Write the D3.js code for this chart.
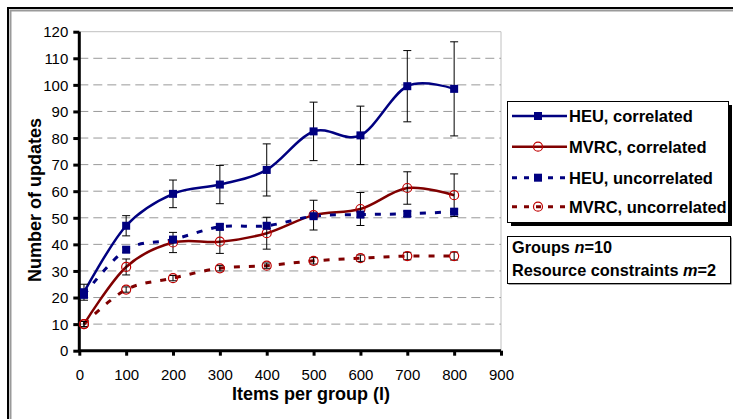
<!DOCTYPE html>
<html>
<head>
<meta charset="utf-8">
<script src="https://cdn.jsdelivr.net/npm/d3@7"></script>
<style>
  body { margin: 0; background: #fff; }
  svg { display: block; font-family: 'Liberation Sans', Arial, sans-serif; }
  .tick-label { font-size: 15px; fill: #000; }
  .axis-title { font-size: 18px; font-weight: bold; }
  .legend-text { font-size: 16.5px; font-weight: bold; }
  .note-text { font-size: 16.3px; font-weight: bold; }
</style>
</head>
<body>
<div id="container"></div>
<script>
const w = 733,
  h = 419;

// data
const items = [10, 100, 200, 300, 400, 500, 600, 700, 800];
const heuCorrelated = [22, 47, 59, 62.5, 68, 82.5, 81, 99.5, 98.5];
const heuCorrelatedErr = [3, 3.8, 5.2, 7.2, 9.8, 11, 11, 13.4, 17.7];
const mvrcCorrelated = [10, 31.5, 40.7, 41, 44.2, 51, 53.3, 61.2, 58.5];
const mvrcCorrelatedErr = [1, 3, 3.8, 4.4, 6, 5.6, 6.2, 6.1, 8];
const heuUncorrelated = [21, 38, 41.8, 46.6, 47, 50.6, 51.2, 51.5, 52.3];
const heuUncorrelatedErr = [1, 1, 1, 1, 1, 1, 1, 1, 1];
const mvrcUncorrelated = [10, 23, 27.3, 31, 32, 33.8, 34.8, 35.6, 35.6];
const mvrcUncorrelatedErr = [1, 1, 1, 1, 1, 1.2, 1.2, 1.4, 1.5];
const seriesNames = ['HEU, correlated', 'MVRC, correlated', 'HEU, uncorrelated', 'MVRC, uncorrelated'];
const xTicks = [0, 100, 200, 300, 400, 500, 600, 700, 800, 900];
const yTicks = [0, 10, 20, 30, 40, 50, 60, 70, 80, 90, 100, 110, 120];

const blue = '#000080',
  red = '#800000';

const series = [
  { name: seriesNames[0], values: heuCorrelated, err: heuCorrelatedErr, color: blue, marker: 'square', dash: null },
  { name: seriesNames[1], values: mvrcCorrelated, err: mvrcCorrelatedErr, color: red, marker: 'circle', dash: null },
  { name: seriesNames[2], values: heuUncorrelated, err: heuUncorrelatedErr, color: blue, marker: 'square', dash: '6,9' },
  { name: seriesNames[3], values: mvrcUncorrelated, err: mvrcUncorrelatedErr, color: red, marker: 'circle', dash: '6,9' }
];

const svg = d3.select('#container').append('svg').attr('width', w).attr('height', h);

// outer frame (black + grey inner line)
svg.append('path').attr('d', 'M8,419 V8 H733').attr('fill', 'none').attr('stroke', '#000').attr('stroke-width', 2);
svg.append('path').attr('d', 'M10.5,419 V10.5 H733').attr('fill', 'none').attr('stroke', '#9a9a9a').attr('stroke-width', 2);

const xScale = d3.scaleLinear().domain([0, 900]).range([79.3, 501]);
const yScale = d3.scaleLinear().domain([0, 120]).range([350.7, 31.7]);

// plot area border
svg
  .append('path')
  .attr('d', 'M' + xScale(0) + ',' + yScale(120) + ' H' + xScale(900) + ' V' + yScale(0))
  .attr('fill', 'none')
  .attr('stroke', '#c0c0c0')
  .attr('stroke-width', 1);

// gridlines
svg
  .append('g')
  .selectAll('line')
  .data(yTicks.filter((d) => d > 0 && d < 120))
  .enter()
  .append('line')
  .attr('x1', xScale(0))
  .attr('x2', xScale(900))
  .attr('y1', (d) => yScale(d))
  .attr('y2', (d) => yScale(d))
  .attr('stroke', '#999')
  .attr('stroke-width', 1)
  .attr('stroke-dasharray', '9,5');

// axes
const yAxis = d3.axisLeft(yScale).tickValues(yTicks).tickSize(6).tickPadding(5);
const xAxis = d3.axisBottom(xScale).tickValues(xTicks).tickSize(5).tickPadding(14);

const gy = svg
  .append('g')
  .attr('transform', 'translate(' + xScale(0) + ',0)')
  .call(yAxis);
const gx = svg
  .append('g')
  .attr('transform', 'translate(0,' + yScale(0) + ')')
  .call(xAxis);

[gx, gy].forEach((g) => {
  g.select('.domain').attr('stroke', '#000').attr('stroke-width', 3);
  g.selectAll('.tick line').attr('stroke', '#000').attr('stroke-width', 3);
  g.selectAll('.tick text')
    .attr('class', 'tick-label')
    .attr('font-family', null)
    .attr('font-size', null);
});
gx.select('.domain').attr('d', 'M' + xScale(0) + ',0H' + xScale(900));
gy.select('.domain').attr('d', 'M0,' + yScale(0) + 'V' + yScale(120));
gy.selectAll('.tick text').attr('dy', '0.35em');

// axis titles
svg
  .append('text')
  .attr('class', 'axis-title')
  .attr('x', 311)
  .attr('y', 400)
  .attr('text-anchor', 'middle')
  .text('Items per group (l)');
svg
  .append('text')
  .attr('class', 'axis-title')
  .attr('transform', 'translate(41,200) rotate(-90)')
  .attr('text-anchor', 'middle')
  .text('Number of updates');

// lines
const line = d3
  .line()
  .x((d, i) => xScale(items[i]))
  .y((d) => yScale(d))
  .curve(d3.curveCardinal.tension(0));

svg
  .append('g')
  .selectAll('path')
  .data(series)
  .enter()
  .append('path')
  .attr('d', (s) => line(s.values))
  .attr('fill', 'none')
  .attr('stroke', (s) => s.color)
  .attr('stroke-width', (s) => (s.dash ? 3 : 2.5))
  .attr('stroke-dasharray', (s) => s.dash);

// error bars
series.forEach((s) => {
  const g = svg.append('g').attr('stroke', '#000').attr('stroke-width', 1);
  s.values.forEach((v, i) => {
    const x = xScale(items[i]);
    const y1 = yScale(v + s.err[i]),
      y2 = yScale(v - s.err[i]);
    g.append('line').attr('x1', x).attr('x2', x).attr('y1', y1).attr('y2', y2);
    g.append('line').attr('x1', x - 4).attr('x2', x + 4).attr('y1', y1).attr('y2', y1);
    g.append('line').attr('x1', x - 4).attr('x2', x + 4).attr('y1', y2).attr('y2', y2);
  });
});

// markers
function drawMarker(g, type, color, x, y) {
  if (type === 'square') {
    g.append('rect')
      .attr('x', x - 4)
      .attr('y', y - 4)
      .attr('width', 8)
      .attr('height', 8)
      .attr('fill', color);
  } else {
    g.append('circle')
      .attr('cx', x)
      .attr('cy', y)
      .attr('r', 4.5)
      .attr('fill', 'none')
      .attr('stroke', '#c00000')
      .attr('stroke-width', 1.2);
  }
}

series.forEach((s) => {
  const g = svg.append('g');
  s.values.forEach((v, i) => drawMarker(g, s.marker, s.color, xScale(items[i]), yScale(v)));
});

// legend
const legend = svg.append('g').attr('transform', 'translate(507,101)');
legend.append('rect').attr('x', 4).attr('y', 4).attr('width', 221).attr('height', 121).attr('fill', '#000');
legend
  .append('rect')
  .attr('x', 0.5)
  .attr('y', 0.5)
  .attr('width', 221)
  .attr('height', 121)
  .attr('fill', '#fff')
  .attr('stroke', '#000')
  .attr('stroke-width', 1);

const rowY = [15, 45.7, 76.7, 105.7];
series.forEach((s, i) => {
  const row = legend.append('g').attr('transform', 'translate(0,' + rowY[i] + ')');
  row
    .append('line')
    .attr('x1', 5)
    .attr('x2', 60)
    .attr('y1', 0)
    .attr('y2', 0)
    .attr('stroke', s.color)
    .attr('stroke-width', s.dash ? 3 : 2.5)
    .attr('stroke-dasharray', s.dash ? '5,7' : null);
  drawMarker(row, s.marker, s.color, 31, 0);
  row
    .append('text')
    .attr('class', 'legend-text')
    .attr('x', 62)
    .attr('y', 6)
    .text(s.name);
});

// note box
const note = svg.append('g').attr('transform', 'translate(507,236)');
note.append('rect').attr('x', 1.5).attr('y', 1.5).attr('width', 223).attr('height', 47).attr('fill', '#444');
note
  .append('rect')
  .attr('x', 0.5)
  .attr('y', 0.5)
  .attr('width', 223)
  .attr('height', 47)
  .attr('fill', '#fff')
  .attr('stroke', '#000')
  .attr('stroke-width', 1);
const t1 = note.append('text').attr('class', 'note-text').attr('x', 5).attr('y', 17);
t1.append('tspan').text('Groups ');
t1.append('tspan').attr('font-style', 'italic').text('n');
t1.append('tspan').text('=10');
const t2 = note.append('text').attr('class', 'note-text').attr('x', 5).attr('y', 39.5);
t2.append('tspan').text('Resource constraints ');
t2.append('tspan').attr('font-style', 'italic').text('m');
t2.append('tspan').text('=2');
</script>
</body>
</html>
